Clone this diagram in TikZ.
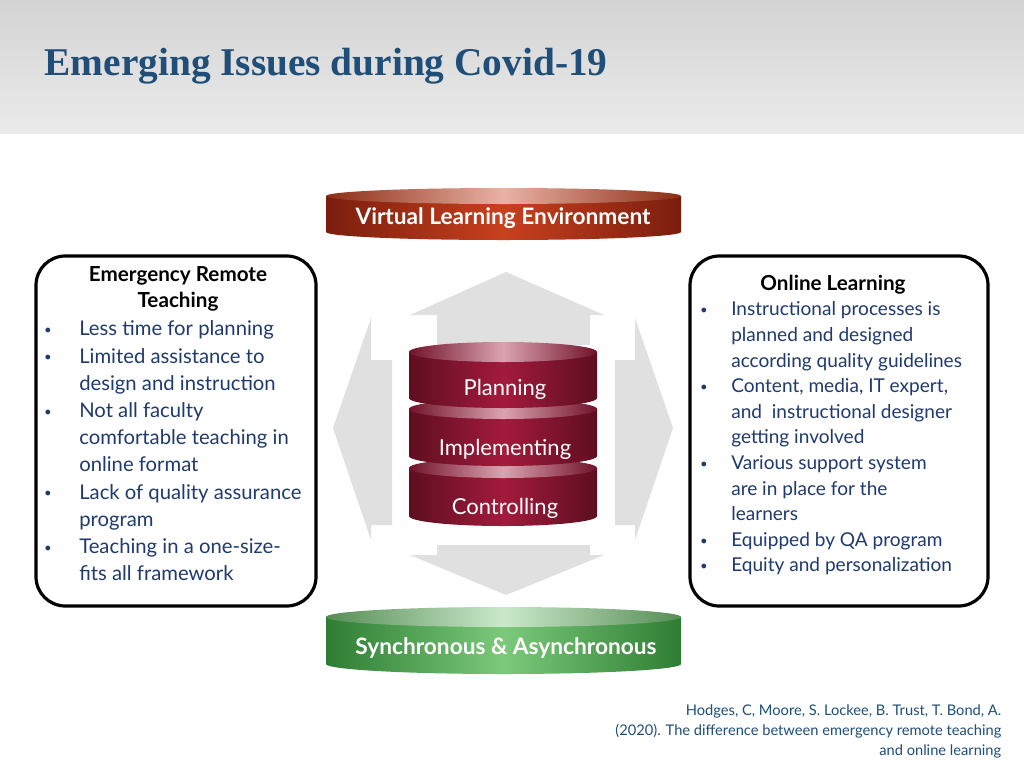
\documentclass[tikz,border=0pt]{standalone}
\usepackage{fontspec}
\setmainfont{Lato}
\newfontfamily\titlefont{Liberation Serif}
\usetikzlibrary{positioning, calc}

\definecolor{navy}{HTML}{1F4E79}
\definecolor{txtblue}{HTML}{1F3A6E}
\definecolor{redtop}{HTML}{C8401E}
\definecolor{reddark}{HTML}{7A1E0E}
\definecolor{greentop}{HTML}{7CC97C}
\definecolor{greendark}{HTML}{2E7D32}
\definecolor{wine}{HTML}{A31A3C}
\definecolor{winedark}{HTML}{5E0E20}

\tikzset{
  infobox/.style={draw=black, line width=2.4pt, rounded corners=22pt},
  boxhead/.style={font=\bfseries\fontsize{15.5}{18}\selectfont, black, align=center},
  itemline/.style={anchor=west, font=\fontsize{14.3}{18}\selectfont, text=txtblue, inner sep=0pt},
  bulletdot/.style={anchor=center, font=\fontsize{9}{9}\selectfont, text=txtblue, inner sep=0pt},
  bigarrow/.style={fill=black!12, draw=none},
  disklabel/.style={font=\fontsize{16.5}{18}\selectfont, white},
  barlabel/.style={font=\bfseries\fontsize{17}{19}\selectfont, white}
}

% cylinder drawn from left x, right x, top y, bottom y, ry
\newcommand{\diskshape}[7]{%
  \shade[left color=#6, right color=#6, middle color=#5]
    (#1,#3) -- (#1,#4) arc[start angle=180, end angle=0, x radius={(#2-#1)/2}, y radius=#7]
    -- (#2,#3) -- cycle;
  \shade[left color=#5!70!black, right color=#5!70!black, middle color=#5!40!white]
    ({(#1+#2)/2},#3) ellipse[x radius={(#2-#1)/2}, y radius=#7];
}

\begin{document}
\begin{tikzpicture}[x=0.75pt, y=-0.75pt]
\useasboundingbox (0,0) rectangle (1024,768);
\fill[white] (0,0) rectangle (1024,768);
\shade[top color=black!17, bottom color=black!8] (0,0) rectangle (1024,133);
\node[anchor=west, font=\titlefont\bfseries\fontsize{29.5}{32}\selectfont, text=navy] (title) at (40,66) {Emerging Issues during Covid-19};

% big grey arrows
\fill[bigarrow] (506,272) -- (604,315) -- (590,315) -- (590,345) -- (437,345) -- (437,315) -- (410,315) -- cycle;
\fill[bigarrow] (506,595) -- (604,555) -- (590,555) -- (590,545) -- (437,545) -- (437,555) -- (410,555) -- cycle;
\fill[bigarrow] (333,428) -- (371,318) -- (371,360) -- (392,360) -- (392,525) -- (371,525) -- (371,540) -- cycle;
\fill[bigarrow] (673,428) -- (635,318) -- (635,360) -- (615,360) -- (615,525) -- (635,525) -- (635,540) -- cycle;

% bars
\diskshape{326}{681}{196}{232}{redtop}{reddark}{8}
\node[barlabel] (vle) at (503,218) {Virtual Learning Environment};
\diskshape{326}{681}{617}{664}{greentop}{greendark}{10}
\node[barlabel] (sync) at (506,648) {Synchronous \& Asynchronous};

% stack
\diskshape{409}{597}{468}{516}{wine}{winedark}{10}
\diskshape{409}{597}{409}{456}{wine}{winedark}{10}
\diskshape{409}{597}{352}{398}{wine}{winedark}{10}
\node[disklabel] (plan) at (505,389) {Planning};
\node[disklabel] (impl) at (505,449) {Implementing};
\node[disklabel] (ctrl) at (505,508) {Controlling};

% left box
\draw[infobox] (36,256) rectangle (316,606);
\node[boxhead] (erthead) at (178,289) {Emergency Remote\\[2pt]Teaching};
\foreach \t [count=\i] in {Less time for planning, Limited assistance to, design and instruction,
  Not all faculty, comfortable teaching in, online format, Lack of quality assurance,
  program, Teaching in a one-size-, fits all framework}
  \node[itemline, font=\fontsize{15.2}{18}\selectfont] (ert\i) at (79,{331+27.2*(\i-1)}) {\strut\t};
\foreach \i in {1,2,4,7,9}
  \node[bulletdot] at (48,{331+27.2*(\i-1)}) {$\bullet$};

% right box
\draw[infobox] (690,256) rectangle (988,606);
\node[boxhead] (olhead) at (833,285) {Online Learning};
\foreach \t [count=\i] in {Instructional processes is, planned and designed,
  according quality guidelines, {Content, media, IT expert,}, and\ \ instructional designer,
  getting involved, Various support system, are in place for the, learners,
  Equipped by QA program, Equity and personalization}
  \node[itemline] (ol\i) at (731,{311+25.6*(\i-1)}) {\strut\t};
\foreach \i in {1,4,7,10,11}
  \node[bulletdot] at (704,{311+25.6*(\i-1)}) {$\bullet$};

% reference
\node[anchor=north east, align=right, font=\fontsize{11}{15}\selectfont, text=navy] (ref) at (1006,700)
  {Hodges, C, Moore, S. Lockee, B. Trust, T. Bond, A.\\(2020). The difference between emergency remote teaching\\and online learning};
\end{tikzpicture}
\end{document}
